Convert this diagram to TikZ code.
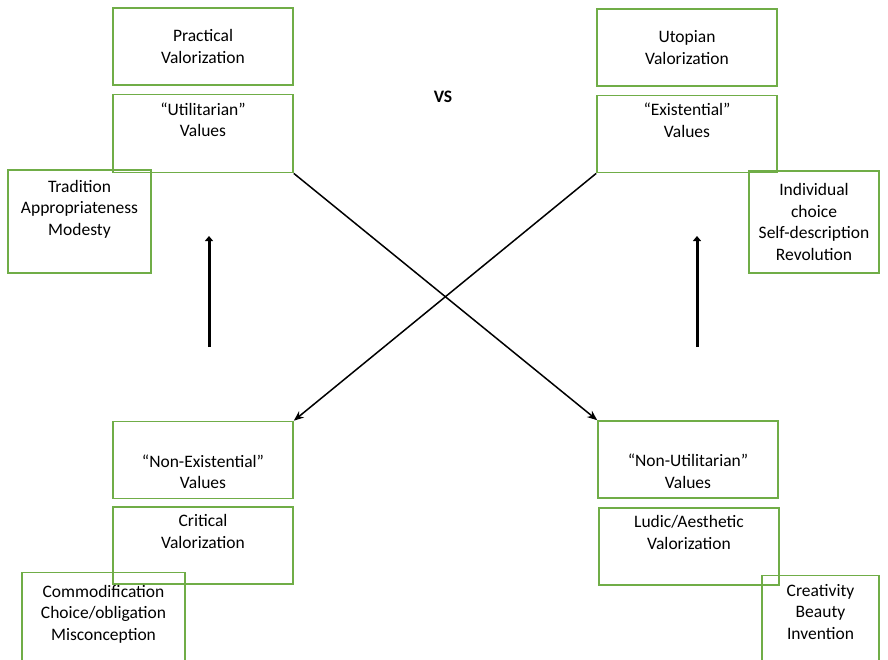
\documentclass[tikz,border=0pt]{standalone}
\usepackage{fontspec}
\setmainfont{Carlito}
\usepackage{xcolor}
\usepackage{tikz}
\usetikzlibrary{arrows.meta}
\usetikzlibrary{positioning}

\definecolor{boxgreen}{RGB}{112,173,71}

\begin{document}
\begin{tikzpicture}[x=1pt, y=-1pt, node distance=8pt]
          \tikzstyle{valbox}=[draw=boxgreen, line width=1.6pt, inner sep=0pt, align=center, font=\fontsize{17.5}{21.5}\selectfont]
          \tikzstyle{cross}=[black, line width=1.5pt, -{Stealth[length=10pt,width=8pt]}]
          \tikzstyle{lift}=[black, line width=3pt, -{Triangle[length=5pt,width=8pt]}]
          \useasboundingbox (0,0) rectangle (888,659);
          \clip (0,0) rectangle (888,659);
          % left top
          \node[valbox, minimum width=180pt, minimum height=77pt] (practical) at (203,46.5) {Practical\\Valorization};
          \node[valbox, minimum width=180pt, minimum height=78pt] (utilitarian) [below=of practical] {“Utilitarian”\\Values\\\strut};
          \node[valbox, minimum width=143pt, minimum height=103pt] (tradition) at (79.5,221.5) {Tradition\\Appropriateness\\Modesty\\\strut};
          % right top
          \node[valbox, minimum width=180pt, minimum height=77pt] (utopian) at (687,47.5) {Utopian\\Valorization};
          \node[valbox, minimum width=180pt, minimum height=77pt] (existential) [below=of utopian] {“Existential”\\Values\\\strut};
          \node[valbox, minimum width=130pt, minimum height=102pt] (choice) at (814,222) {Individual\\choice\\Self-description\\Revolution};
          \node[font=\fontsize{17.5}{21.5}\selectfont\bfseries] (vs) at (443,97) {VS};
          % left bottom
          \node[valbox, minimum width=180pt, minimum height=77pt] (nonexist) at (203,460) {\strut\\“Non-Existential”\\Values};
          \node[valbox, minimum width=180pt, minimum height=77pt] (critical) at (203,545.5) {Critical\\Valorization\\\strut};
          \node[valbox, minimum width=163pt, minimum height=108pt] (commod) at (103.5,626.5) {Commodification\\Choice/obligation\\Misconception\\\strut};
          % right bottom
          \node[valbox, minimum width=180pt, minimum height=77pt] (nonutil) at (688,459.5) {\strut\\“Non-Utilitarian”\\Values};
          \node[valbox, minimum width=180pt, minimum height=77pt] (ludic) at (689,546.5) {Ludic/Aesthetic\\Valorization\\\strut};
          \node[valbox, minimum width=117pt, minimum height=100pt] (creativity) at (820.5,625.5) {Creativity\\Beauty\\Invention\\\strut};
          % arrows
          \coordinate (lfoot) at (209,347);
          \coordinate (lhead) at (209,236);
          \coordinate (rfoot) at (697,347);
          \coordinate (rhead) at (697,236);
          \draw[lift] (lfoot) -- (lhead);
          \draw[lift] (rfoot) -- (rhead);
          \draw[cross] (utilitarian.south east) -- (nonutil.north west);
          \draw[cross] (existential.south west) -- (nonexist.north east);
        \end{tikzpicture}
\end{document}
